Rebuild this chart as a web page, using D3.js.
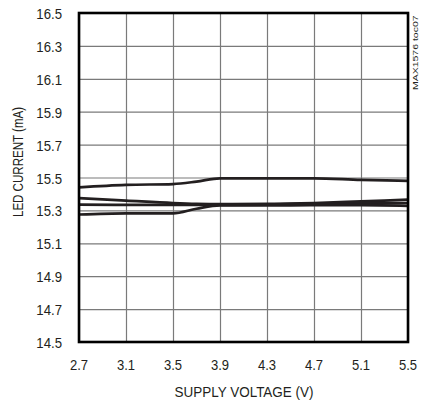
<!DOCTYPE html>
<html>
  <head>
    <meta charset="utf-8">
    <script src="https://cdn.jsdelivr.net/npm/d3@7"></script>
	<style>
		body { margin:0; background:#fff; }
		text { font-family:"Liberation Sans",Arial,sans-serif; fill:#231f20; }
	</style>
  </head>
  <body>
	<svg></svg>
    <script>
	var voltage = [2.7, 3.1, 3.5, 3.7, 3.9, 4.3, 4.7, 5.1, 5.5];
	var led1 = [15.44, 15.455, 15.46, 15.475, 15.495, 15.495, 15.495, 15.485, 15.48];
	var led2 = [15.375, 15.36, 15.345, 15.34, 15.338, 15.34, 15.345, 15.355, 15.365];
	var led3 = [15.335, 15.333, 15.333, 15.333, 15.333, 15.335, 15.34, 15.343, 15.345];
	var led4 = [15.275, 15.282, 15.282, 15.31, 15.33, 15.33, 15.332, 15.332, 15.328];
	var xTicks = [2.7, 3.1, 3.5, 3.9, 4.3, 4.7, 5.1, 5.5];
	var yTicks = [14.5, 14.7, 14.9, 15.1, 15.3, 15.5, 15.7, 15.9, 16.1, 16.3, 16.5];

	var width = 421, height = 402;
	var pl = 79, pr = 408, pt = 13, pb = 342;
	var svg = d3.select("svg").attr("width", width).attr("height", height);

	var x = d3.scaleLinear().domain([2.7, 5.5]).range([pl, pr]);
	var y = d3.scaleLinear().domain([14.5, 16.5]).range([pb, pt]);

	// text squeezed sideways to look like the narrow face of the original
	function label(tx, ty, str, anchor, size, sx, rot) {
		svg.append("text")
			.attr("transform", "translate(" + tx + "," + ty + ")" + (rot ? " rotate(" + rot + ")" : "") + " scale(" + sx + ",1)")
			.attr("text-anchor", anchor).attr("font-size", size).text(str);
	}

	// grid
	svg.append("g").attr("transform", "translate(0," + pb + ")")
		.call(d3.axisBottom(x).tickValues(xTicks).tickSize(-(pb - pt)).tickFormat(""))
		.call(function(g){ g.select(".domain").remove(); g.selectAll("line").attr("stroke", "#7a7a7a").attr("stroke-width", 1.2); });
	svg.append("g").attr("transform", "translate(" + pl + ",0)")
		.call(d3.axisLeft(y).tickValues(yTicks).tickSize(-(pr - pl)).tickFormat(""))
		.call(function(g){ g.select(".domain").remove(); g.selectAll("line").attr("stroke", "#7a7a7a").attr("stroke-width", 1.2); });

	xTicks.forEach(function(d){ label(x(d), 370, d3.format(".1f")(d), "middle", 15, 0.87); });
	yTicks.forEach(function(d){ label(62, y(d) + 6, d3.format(".1f")(d), "end", 15, 0.88); });

	var line = d3.line().x(function(d, i){ return x(voltage[i]); }).y(function(d){ return y(d); }).curve(d3.curveMonotoneX);
	[led1, led2, led3, led4].forEach(function(s){
		svg.append("path").attr("d", line(s)).attr("fill", "none")
			.attr("stroke", "#231f20").attr("stroke-width", 2.7);
	});

	svg.append("rect").attr("x", pl).attr("y", pt).attr("width", pr - pl).attr("height", pb - pt)
		.attr("fill", "none").attr("stroke", "#000").attr("stroke-width", 2.6);

	label(244, 397, "SUPPLY VOLTAGE (V)", "middle", 15, 0.9);
	label(23, 162, "LED CURRENT (mA)", "middle", 15, 0.77, -90);
	label(417.5, 90, "MAX1576 toc07", "start", 7, 1.5, -90);
    </script>
  </body>
</html>
